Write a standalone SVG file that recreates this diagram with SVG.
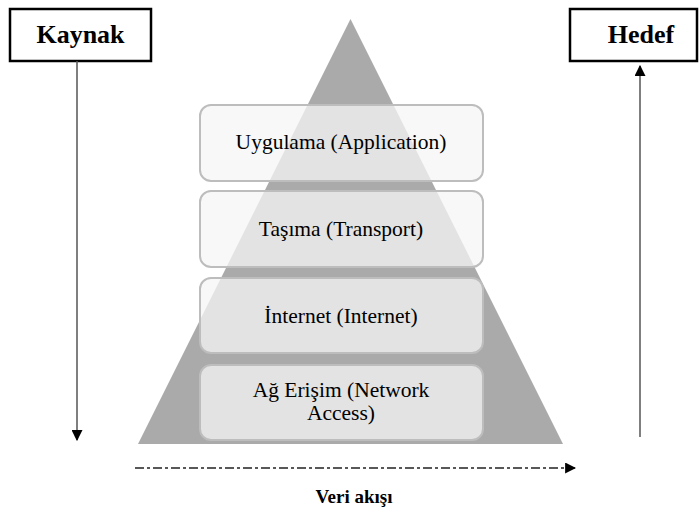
<svg xmlns="http://www.w3.org/2000/svg" width="699" height="513" viewBox="0 0 699 513">
<defs>
<style>
text{font-family:"Liberation Serif","DejaVu Serif",serif;fill:#000;text-anchor:middle}
.layer{font-size:21.5px}
.hdr{font-size:26px;font-weight:bold}
.hbox{fill:#fff;stroke:#000;stroke-width:2.5}
.lbox{fill:#f6f6f6;fill-opacity:0.75;stroke:#bdbdbd;stroke-width:2}
.side{stroke:#555;stroke-width:1.5;fill:none}
</style>
<marker id="ah2" viewBox="0 0 10 10" refX="9" refY="5" markerWidth="11" markerHeight="11" markerUnits="userSpaceOnUse" orient="auto">
<path d="M0,0 L10,5 L0,10 z" fill="#000"/>
</marker>
</defs>
<rect width="699" height="513" fill="#fff"/>
<g id="pyramid">
<polygon points="350.5,19 563,444 138,444" fill="#aaaaaa"/>
</g>
<g id="kaynak">
<rect class="hbox" x="10" y="9" width="141" height="52"/>
<text class="hdr" x="80.5" y="43">Kaynak</text>
</g>
<g id="hedef">
<rect class="hbox" x="570" y="9" width="127" height="52"/>
<text class="hdr" x="641" y="43">Hedef</text>
</g>
<g id="layer-application">
<rect class="lbox" x="200" y="105" width="283" height="76" rx="11"/>
<text class="layer" x="341" y="149">Uygulama (Application)</text>
</g>
<g id="layer-transport">
<rect class="lbox" x="200" y="191" width="283" height="76" rx="11"/>
<text class="layer" x="341" y="236">Taşıma (Transport)</text>
</g>
<g id="layer-internet">
<rect class="lbox" x="200" y="278" width="283" height="75" rx="11"/>
<text class="layer" x="341" y="323">İnternet (Internet)</text>
</g>
<g id="layer-network">
<rect class="lbox" x="200" y="365" width="283" height="75" rx="11"/>
<text class="layer" x="341" y="397">Ağ Erişim (Network</text>
<text class="layer" x="341" y="420">Access)</text>
</g>
<g id="connectors">
<line class="side" x1="77" y1="61" x2="77" y2="440" marker-end="url(#ah2)"/>
<line class="side" x1="640" y1="437" x2="640" y2="66" marker-end="url(#ah2)"/>
<line x1="135" y1="468" x2="575" y2="468" stroke="#222" stroke-width="1.5" stroke-dasharray="9,3,3,3" marker-end="url(#ah2)"/>
</g>
<g id="flow-label">
<text x="354" y="503" font-size="19" font-weight="bold">Veri akışı</text>
</g>
</svg>
